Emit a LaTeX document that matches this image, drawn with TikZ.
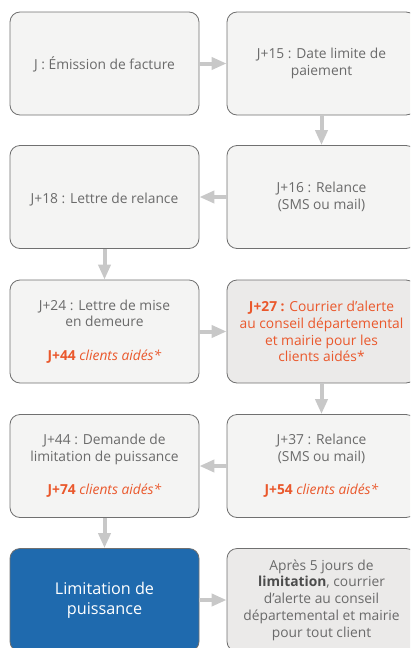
\documentclass[tikz,border=0pt]{standalone}
\usepackage{fontspec}
\setmainfont{Open Sans}
\usetikzlibrary{arrows.meta}
\definecolor{txtgray}{RGB}{106,106,106}
\definecolor{boxfill}{RGB}{244,244,243}
\definecolor{boxfilldark}{RGB}{235,234,233}
\definecolor{boxline}{RGB}{112,112,112}
\definecolor{orng}{RGB}{234,88,44}
\definecolor{arrgray}{RGB}{200,200,200}
\definecolor{blu}{RGB}{31,106,174}
\begin{document}
\begin{tikzpicture}[x=1pt,y=-1pt,
  stepbox/.style={draw=boxline, line width=0.8pt, fill=boxfill, rounded corners=10pt,
    minimum width=189pt, minimum height=103pt, align=center, text=txtgray,
    font=\fontsize{13.8}{16.7}\selectfont, inner sep=2pt,
    execute at begin node={\rule{0pt}{15pt}}},
  darkbox/.style={stepbox, fill=boxfilldark},
  bluebox/.style={stepbox, fill=blu, text=white, font=\fontsize{16.2}{20}\selectfont},
  arr/.style={draw=arrgray, line width=4pt, -{Triangle[length=15pt,width=12pt]}}]
\useasboundingbox (0,0) rectangle (410,648);
\clip (0,0) rectangle (410,648);
\node[stepbox] (n1) at (104.5,63.5) {J : Émission de facture};
\node[stepbox] (n2) at (321.5,63.5) {J+15 : Date limite de\\paiement};
\node[stepbox] (n3) at (321.5,197) {J+16 : Relance\\(SMS ou mail)};
\node[stepbox] (n4) at (104.5,197) {J+18 : Lettre de relance};
\node[stepbox] (n5) at (104.5,331.5) {J+24 : Lettre de mise\\en demeure\\[16.7pt]\textcolor{orng}{\textbf{J+44} \textit{clients aidés*}}};
\node[darkbox, text=orng] (n6) at (321.5,331.5) {\textbf{J+27 :} Courrier d’alerte\\au conseil départemental\\et mairie pour les\\clients aidés*};
\node[stepbox] (n7) at (321.5,466) {J+37 : Relance\\(SMS ou mail)\\[16.7pt]\textcolor{orng}{\textbf{J+54} \textit{clients aidés*}}};
\node[stepbox] (n8) at (104.5,466) {J+44 : Demande de\\limitation de puissance\\[16.7pt]\textcolor{orng}{\textbf{J+74} \textit{clients aidés*}}};
\node[bluebox] (n9) at (104.5,600) {Limitation de\\puissance};
\node[darkbox] (n10) at (321.5,600) {Après 5 jours de\\\textcolor{black!70}{\textbf{limitation}}, courrier\\d’alerte au conseil\\départemental et mairie\\pour tout client};
\draw[arr] (n1.east) -- (n2.west);
\draw[arr] (n2.south) -- (n3.north);
\draw[arr] (n3.west) -- (n4.east);
\draw[arr] (n4.south) -- (n5.north);
\draw[arr] (n5.east) -- (n6.west);
\draw[arr] (n6.south) -- (n7.north);
\draw[arr] (n7.west) -- (n8.east);
\draw[arr] (n8.south) -- (n9.north);
\draw[arr] (n9.east) -- (n10.west);
\end{tikzpicture}
\end{document}
